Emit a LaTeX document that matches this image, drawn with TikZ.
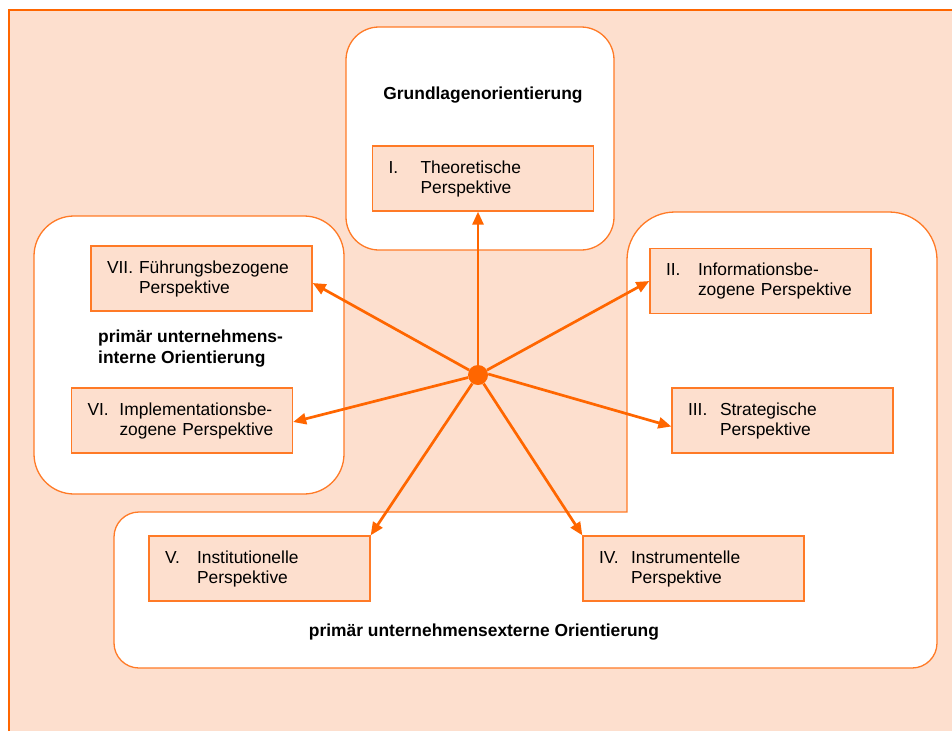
\documentclass[tikz,border=0pt]{standalone}
\usepackage{fontspec}
\setmainfont{Liberation Sans}
\usetikzlibrary{arrows.meta}
\definecolor{pfirsich}{HTML}{FDDFCE}
\definecolor{rahmen}{HTML}{FF6600}
\definecolor{linie}{HTML}{FF7A26}
\tikzset{
	persp/.style={draw=linie, fill=pfirsich, line width=1.3pt, text width=189pt, minimum height=65pt, inner xsep=16pt, inner ysep=0pt, align=left, font=\fontsize{17.4}{20}\selectfont},
	titel/.style={inner sep=0pt, font=\fontsize{17.4}{21}\selectfont\bfseries},
	region/.style={draw=linie, fill=white, line width=1.3pt},
	pfeil/.style={draw=rahmen, line width=2.7pt, -{Triangle[length=13pt, width=11pt]}}
}
\newcommand{\nr}[1]{\makebox[32pt][l]{#1}}
\begin{document}
\begin{tikzpicture}[x=1pt, y=-1pt]
			\useasboundingbox (0,0) rectangle (952,731);
			\fill[pfirsich] (9,10) rectangle (952,731);
			\draw[rahmen, line width=2.2pt] (9,731) -- (9,10) -- (952,10);
			
			\draw[region, rounded corners=33pt] (346,27) rectangle (614,250);
			\draw[region, rounded corners=40pt] (34,216) rectangle (344,494);
			\draw[region] (400,512) -- (627,512) -- (627,300) [rounded corners=48pt] -- (627,212) -- (937,212) -- (937,400) [rounded corners=25pt] -- (937,668) -- (114,668) -- (114,512) -- cycle;
			
			\node[titel] (grund) at (483,95) {Grundlagenorientierung};
			\node[titel, anchor=west, align=left] (intern) at (98,348.5) {primär unternehmens-\\interne Orientierung};
			\node[titel] (extern) at (484,632) {primär unternehmensexterne Orientierung};
			
			\node[persp] (perI) at (483,178.5) {\nr{I.}Theoretische\\\hspace*{32pt}Perspektive};
			\node[persp] (perII) at (760.5,281) {\nr{II.}Informationsbe-\\\hspace*{32pt}zogene Perspektive};
			\node[persp] (perIII) at (782.5,420.5) {\nr{III.}Strategische\\\hspace*{32pt}Perspektive};
			\node[persp] (perIV) at (693.5,568.5) {\nr{IV.}Instrumentelle\\\hspace*{32pt}Perspektive};
			\node[persp] (perV) at (259.5,568.5) {\nr{V.}Institutionelle\\\hspace*{32pt}Perspektive};
			\node[persp] (perVI) at (182,420.5) {\nr{VI.}Implementationsbe-\\\hspace*{32pt}zogene Perspektive};
			\node[persp] (perVII) at (201.5,278.5) {\nr{VII.}Führungsbezogene\\\hspace*{32pt}Perspektive};
			
			\node[circle, fill=rahmen, minimum size=20pt, inner sep=0pt] (hub) at (478,375) {};
			\draw[pfeil] (hub) -- (hub |- perI.south);
			\draw[pfeil] (hub) -- (perII.west);
			\draw[pfeil] ([yshift=1pt]hub.east) -- ([yshift=-6pt]perIII.west);
			\draw[pfeil] (hub) -- (perIV.north west);
			\draw[pfeil] (hub) -- (perV.north east);
			\draw[pfeil] (hub) -- ([yshift=-1.5pt]perVI.east);
			\draw[pfeil] (hub) -- ([yshift=-4.5pt]perVII.east);
		\end{tikzpicture}
\end{document}
